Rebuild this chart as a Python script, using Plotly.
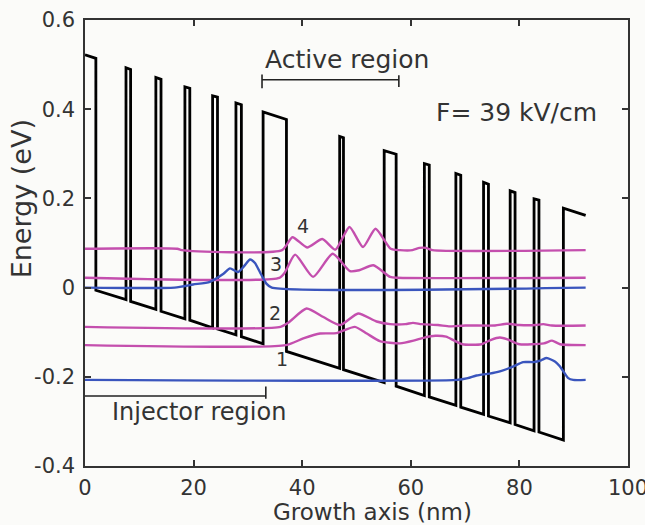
import plotly.graph_objects as go

# ---------------- data ----------------
# conduction-band profile: barrier layers (nm) and well-bottom energy (eV) at their edges
barrier_start = [0.0, 7.55, 13.05, 18.4, 23.5, 27.8, 32.8, 46.9, 55.1, 62.5, 68.3, 73.4, 78.3, 82.7, 88.1]
barrier_end = [2.0, 8.4, 14.0, 19.3, 24.4, 28.8, 37.1, 47.6, 57.3, 63.4, 69.2, 74.3, 79.2, 83.6, 92.2]
bottom_at_start = [0.002, -0.027, -0.049, -0.070, -0.090, -0.106, -0.126, -0.181, -0.213, -0.242,
                   -0.264, -0.284, -0.303, -0.321, -0.342]
bottom_at_end = [-0.006, -0.031, -0.053, -0.073, -0.093, -0.110, -0.143, -0.184, -0.221, -0.245,
                 -0.268, -0.288, -0.307, -0.324, -0.358]
barrier_height = 0.52  # eV

# subband levels (eV) and |psi|^2 profiles (offset above the level, eV)
level4_E = 0.084
level4_x = [0, 17, 17.8, 36.3, 38.2, 40.9, 43.7, 46.1, 48.7, 51.2, 53.5, 56.3, 58, 60.3, 61.6, 62.8, 64, 92.2]
level4_off = [0.003, 0.003, 0, 0, 0.029, 0.006, 0.025, 0.001, 0.052, 0.007, 0.048, 0.003, 0, 0, 0.005, 0.005, 0, 0]

level3_E = 0.022
level3_x = [0, 35.8, 36.8, 38.7, 42.0, 45.6, 48.8, 50.5, 53.1, 56.2, 57.5, 92.2]
level3_off = [0, 0, 0.012, 0.052, 0.002, 0.054, 0.015, 0.017, 0.028, 0.002, 0, 0]

level2_E = -0.088
level2_x = [0, 36.0, 37.5, 40.8, 43.9, 47.0, 50.3, 53.7, 56.2, 59.0, 60.4, 62.0, 65.0, 67.2, 70.0, 75.5,
            77.7, 80.0, 83.0, 84.4, 86.0, 92.2]
level2_off = [0, 0, 0.010, 0.041, 0.022, 0.004, 0.030, 0.012, 0.006, 0.006, 0.009, 0.006, 0.004, 0.001,
              0.003, 0.003, 0.007, 0.004, 0.004, 0.006, 0.003, 0.003]

level1_E = -0.129
level1_x = [0, 37.0, 40.2, 43.3, 46.3, 49.7, 51.9, 54.3, 58.0, 60.5, 62.5, 64.5, 66.5, 68.0, 69.5, 73.0,
            74.8, 76.4, 77.8, 80.0, 84.5, 86.0, 87.5, 92.2]
level1_off = [0, 0, 0.015, 0.026, 0.027, 0.041, 0.026, 0.009, 0.004, 0.010, 0.017, 0.021, 0.019, 0.010,
              0.002, 0.002, 0.012, 0.017, 0.013, 0.002, 0.004, 0.010, 0.002, 0]

inj_upper_E = 0.0
inj_upper_x = [0, 16.5, 19.9, 23.0, 25.5, 26.7, 28.2, 29.3, 30.4, 31.3, 32.2, 33.4, 34.4, 92.2]
inj_upper_off = [0, 0, 0.007, 0.013, 0.031, 0.043, 0.035, 0.048, 0.063, 0.055, 0.035, 0.009, 0, 0]

inj_lower_E = -0.207
inj_lower_x = [0, 68.5, 70.5, 72.1, 74.5, 76.4, 78.8, 80.7, 82.6, 84.0, 85.0, 86.6, 87.4, 88.1, 89.0, 89.9, 92.2]
inj_lower_off = [0, 0, 0.004, 0.010, 0.014, 0.019, 0.030, 0.040, 0.040, 0.044, 0.049, 0.041, 0.031, 0.019,
                 0.004, 0, 0]

level_labels = ["1", "2", "3", "4"]
x_ticks = [0, 20, 40, 60, 80, 100]
y_ticks = [-0.4, -0.2, 0, 0.2, 0.4, 0.6]
y_ticktext = ["-0.4", "-0.2", "0", "0.2", "0.4", "0.6"]

MAGENTA = "#c44fae"
BLUE = "#3a55bd"
INK = "#333333"
FONT = "DejaVu Sans"

# ---------------- band profile path ----------------
band_x, band_y = [], []
for i, (s, e) in enumerate(zip(barrier_start, barrier_end)):
    if i > 0:
        band_x.append(s); band_y.append(bottom_at_start[i])
    band_x.append(s); band_y.append(bottom_at_start[i] + barrier_height)
    band_x.append(e); band_y.append(bottom_at_end[i] + barrier_height)
    if i < len(barrier_start) - 1:
        band_x.append(e); band_y.append(bottom_at_end[i])

fig = go.Figure()
fig.add_trace(go.Scatter(x=band_x, y=band_y, mode="lines",
                         line=dict(color="black", width=2.8), hoverinfo="skip", showlegend=False))

def wf(xs, offs, E, color):
    fig.add_trace(go.Scatter(x=xs, y=[E + o for o in offs], mode="lines",
                             line=dict(color=color, width=2.4, shape="spline", smoothing=0.6),
                             hoverinfo="skip", showlegend=False))

wf(level4_x, level4_off, level4_E, MAGENTA)
wf(level3_x, level3_off, level3_E, MAGENTA)
wf(level2_x, level2_off, level2_E, MAGENTA)
wf(level1_x, level1_off, level1_E, MAGENTA)
wf(inj_upper_x, inj_upper_off, inj_upper_E, BLUE)
wf(inj_lower_x, inj_lower_off, inj_lower_E, BLUE)

# ---------------- brackets & annotations ----------------
line_k = dict(color="#222222", width=1.6)
shapes = [
    # active region bracket
    dict(type="line", xref="x", yref="y", x0=32.6, x1=57.8, y0=0.466, y1=0.466, line=line_k),
    dict(type="line", xref="x", yref="y", x0=32.6, x1=32.6, y0=0.447, y1=0.478, line=line_k),
    dict(type="line", xref="x", yref="y", x0=57.8, x1=57.8, y0=0.450, y1=0.476, line=line_k),
    # injector region bracket
    dict(type="line", xref="x", yref="y", x0=0, x1=33.3, y0=-0.243, y1=-0.243, line=line_k),
    dict(type="line", xref="x", yref="y", x0=33.3, x1=33.3, y0=-0.249, y1=-0.222, line=line_k),
]

ann = [
    dict(x=48.2, y=0.512, text="Active region", font=dict(size=25)),
    dict(x=79.4, y=0.392, text="F= 39 kV/cm", font=dict(size=25)),
    dict(x=21.0, y=-0.278, text="Injector region", font=dict(size=24)),
    dict(x=36.2, y=-0.161, text=level_labels[0], font=dict(size=19)),
    dict(x=35.0, y=-0.057, text=level_labels[1], font=dict(size=19)),
    dict(x=35.1, y=0.052, text=level_labels[2], font=dict(size=19)),
    dict(x=40.1, y=0.138, text=level_labels[3], font=dict(size=19)),
]
annotations = []
for a in ann:
    a.update(xref="x", yref="y", showarrow=False, xanchor="center", yanchor="middle")
    a["font"].update(family=FONT, color=INK)
    annotations.append(a)

annotations.append(dict(text="Growth axis (nm)", xref="paper", yref="paper", x=0.5286, y=-0.103,
                        showarrow=False, xanchor="center", yanchor="middle",
                        font=dict(family=FONT, size=23, color=INK)))
annotations.append(dict(text="Energy (eV)", xref="paper", yref="paper", x=-0.118, y=0.60,
                        showarrow=False, xanchor="center", yanchor="middle", textangle=-90,
                        font=dict(family=FONT, size=27, color=INK)))

axis_common = dict(showgrid=False, zeroline=False, showline=True, linecolor=INK, linewidth=1.5,
                   mirror="ticks", ticks="inside", ticklen=6, tickwidth=1.5, tickcolor=INK,
                   ticklabeloverflow="allow", automargin=False,
                   tickfont=dict(family=FONT, size=21, color=INK))

fig.update_layout(
    width=645, height=525,
    margin=dict(l=85, r=17, t=20, b=59, autoexpand=False),
    paper_bgcolor="#fbfbf9", plot_bgcolor="#fbfbf9",
    xaxis=dict(range=[0, 100], tickvals=x_ticks, ticklabelstandoff=2, **axis_common),
    yaxis=dict(range=[-0.4, 0.6], tickvals=y_ticks, ticktext=y_ticktext, ticklabelstandoff=4, **axis_common),
    shapes=shapes, annotations=annotations,
    showlegend=False,
)

fig.write_html("out.html", config={"displayModeBar": False},
               post_script="document.body.style.margin='0';document.body.style.overflow='hidden';")
